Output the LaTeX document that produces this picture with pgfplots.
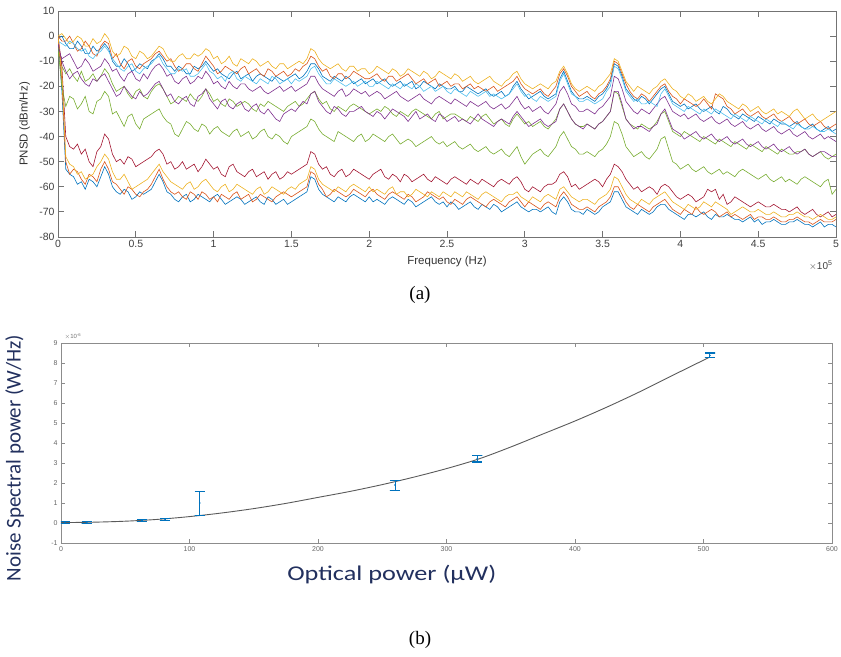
\documentclass[border=0pt]{standalone}
\usepackage{fontspec}
\setmainfont{Liberation Sans}
\newfontfamily\timesf{Liberation Serif}
\newfontfamily\calib{Carlito}
\usepackage{pgfplots}
\usepackage{pgfplotstable}
\pgfplotsset{compat=1.18}

\definecolor{mblue}{HTML}{0072BD}
\definecolor{morange}{HTML}{D95319}
\definecolor{myellow}{HTML}{EDB120}
\definecolor{mpurple}{HTML}{7E2F8E}
\definecolor{mgreen}{HTML}{77AC30}
\definecolor{mcyan}{HTML}{4DBEEE}
\definecolor{mred}{HTML}{A2142F}
\definecolor{eblue}{HTML}{0072BD}
\definecolor{fitgray}{HTML}{5A5A5A}
\definecolor{navy}{HTML}{22305E}

% PSD curves, frequency in units of 1e5 Hz
\pgfplotstableread{
x Y1 O1 B1 C1 P1 P2 G1 G2 R Y2 O2 B2
0.000 0 0 -1 -2 -5 -3 -3 -5 0 0 0 0
0.025 1 -2 0 -3 -9 -10 -12 -20 -12 -15 -18 -22
0.050 -1 -2 -3 -4 -8 -14 -15 -28 -40 -48 -50 -53
0.075 -3 0 -5 -2 -7 -17 -13 -24 -44 -51 -55 -55
0.100 -2 -3 -5 -3 -10 -15 -16 -25 -45 -52 -53 -56
0.125 0 -6 -2 -5 -13 -14 -18 -29 -43 -55 -54 -59
0.150 -1 -5 -4 -6 -12 -17 -14 -27 -47 -54 -57 -58
0.175 -4 -2 -7 -5 -9 -19 -18 -24 -45 -57 -59 -61
0.200 -4 -4 -7 -8 -11 -20 -17 -30 -50 -56 -55 -57
0.225 -1 -7 -4 -9 -14 -17 -15 -31 -52 -55 -56 -58
0.250 -3 -8 -6 -7 -13 -18 -18 -26 -46 -52 -58 -60
0.275 -2 -4 -5 -6 -12 -16 -16 -25 -44 -50 -53 -56
0.300 1 -2 -3 -4 -9 -15 -13 -22 -39 -47 -50 -52
0.325 -1 -3 -5 -6 -11 -18 -15 -24 -41 -49 -53 -55
0.350 -6 -9 -10 -9 -14 -21 -19 -31 -47 -54 -58 -60
0.375 -8 -7 -12 -11 -13 -24 -22 -30 -50 -57 -59 -62
0.400 -7 -11 -12 -13 -16 -23 -21 -33 -49 -57 -61 -63
0.425 -4 -13 -9 -14 -18 -20 -20 -36 -51 -55 -63 -61
0.450 -5 -10 -11 -12 -15 -22 -23 -32 -48 -58 -60 -62
0.475 -8 -9 -14 -11 -14 -24 -25 -31 -49 -61 -61 -65
0.500 -9 -12 -13 -14 -17 -25 -22 -35 -52 -60 -63 -64
0.525 -6 -13 -11 -15 -18 -22 -21 -37 -51 -59 -64 -62
0.550 -7 -11 -12 -13 -15 -24 -24 -33 -50 -58 -62 -63
0.575 -9 -10 -13 -12 -17 -23 -25 -32 -49 -57 -61 -62
0.600 -8 -9 -10 -11 -14 -21 -22 -31 -48 -55 -59 -61
0.625 -6 -7 -9 -9 -12 -19 -20 -30 -46 -53 -56 -58
0.650 -4 -6 -7 -8 -11 -18 -19 -29 -45 -51 -53 -55
0.675 -5 -8 -9 -11 -13 -21 -21 -32 -47 -54 -57 -58
0.700 -8 -10 -12 -13 -16 -24 -24 -34 -51 -56 -60 -62
0.725 -10 -9 -12 -15 -15 -23 -27 -35 -50 -58 -62 -63
0.750 -10 -12 -14 -15 -18 -26 -26 -39 -53 -59 -63 -65
0.775 -8 -14 -12 -13 -19 -27 -24 -40 -52 -60 -62 -66
0.800 -7 -13 -13 -14 -17 -25 -25 -37 -50 -61 -64 -64
0.825 -9 -11 -15 -13 -16 -24 -26 -34 -53 -59 -65 -63
0.850 -9 -11 -15 -16 -19 -27 -23 -35 -52 -58 -62 -66
0.875 -7 -13 -12 -16 -18 -28 -25 -37 -51 -61 -63 -65
0.900 -8 -14 -13 -15 -16 -24 -26 -38 -54 -60 -65 -63
0.925 -7 -11 -12 -13 -17 -23 -24 -35 -52 -58 -62 -64
0.950 -5 -8 -10 -11 -14 -21 -21 -36 -49 -57 -63 -65
0.975 -6 -10 -12 -14 -16 -25 -23 -39 -51 -59 -65 -66
1.000 -9 -12 -14 -15 -19 -27 -26 -37 -53 -61 -64 -64
1.025 -8 -15 -13 -17 -18 -29 -25 -36 -52 -62 -66 -63
1.050 -11 -14 -15 -16 -20 -26 -27 -38 -55 -60 -63 -65
1.075 -10 -12 -16 -18 -21 -25 -28 -39 -56 -59 -64 -67
1.100 -8 -13 -17 -15 -18 -28 -25 -40 -52 -62 -65 -66
1.125 -11 -14 -15 -14 -20 -29 -26 -38 -51 -61 -63 -65
1.150 -12 -15 -14 -17 -21 -27 -28 -37 -54 -59 -62 -64
1.175 -9 -13 -17 -18 -19 -26 -27 -40 -55 -60 -65 -65
1.200 -10 -12 -16 -16 -19 -29 -26 -39 -56 -61 -64 -67
1.225 -11 -15 -15 -17 -21 -30 -27 -38 -54 -62 -63 -66
1.250 -9 -14 -18 -18 -22 -28 -29 -41 -53 -63 -66 -65
1.275 -10 -13 -16 -19 -21 -27 -30 -40 -56 -61 -65 -64
1.300 -12 -15 -15 -17 -20 -30 -27 -38 -55 -60 -63 -66
1.325 -11 -16 -16 -18 -22 -31 -28 -37 -54 -63 -64 -67
1.350 -10 -13 -17 -19 -23 -29 -26 -40 -57 -62 -65 -64
1.375 -12 -14 -18 -16 -22 -31 -27 -41 -55 -60 -66 -65
1.400 -13 -16 -16 -17 -21 -33 -28 -39 -54 -61 -64 -67
1.425 -11 -15 -17 -19 -20 -34 -29 -40 -57 -62 -63 -66
1.450 -11 -14 -18 -18 -22 -31 -30 -42 -56 -63 -62 -65
1.475 -13 -16 -17 -17 -21 -30 -28 -43 -54 -61 -63 -67
1.500 -12 -15 -16 -19 -20 -29 -27 -40 -55 -60 -64 -66
1.525 -11 -13 -15 -17 -22 -30 -26 -39 -54 -61 -63 -65
1.550 -10 -14 -17 -18 -21 -28 -28 -38 -53 -59 -62 -64
1.575 -11 -12 -16 -17 -20 -26 -27 -37 -52 -58 -61 -63
1.600 -9 -11 -14 -16 -19 -27 -25 -36 -51 -57 -60 -62
1.625 -5 -8 -11 -13 -16 -23 -23 -33 -46 -52 -54 -56
1.650 -6 -9 -11 -12 -16 -22 -22 -34 -47 -53 -55 -57
1.675 -9 -12 -13 -15 -19 -26 -25 -37 -51 -57 -59 -61
1.700 -11 -14 -16 -17 -21 -28 -27 -39 -53 -59 -61 -63
1.725 -12 -13 -17 -19 -22 -30 -26 -40 -52 -60 -64 -64
1.750 -13 -16 -18 -19 -23 -31 -29 -41 -55 -61 -63 -65
1.775 -12 -17 -16 -17 -24 -28 -30 -42 -56 -62 -61 -66
1.800 -11 -15 -17 -18 -22 -29 -28 -38 -54 -60 -62 -64
1.825 -13 -15 -18 -19 -21 -31 -29 -39 -53 -61 -63 -65
1.850 -14 -17 -16 -20 -24 -32 -30 -40 -56 -62 -64 -66
1.875 -12 -16 -17 -19 -23 -30 -28 -41 -55 -60 -63 -64
1.900 -12 -14 -19 -18 -21 -30 -27 -42 -53 -59 -61 -63
1.925 -14 -15 -18 -20 -22 -29 -28 -40 -54 -60 -62 -64
1.950 -13 -16 -17 -19 -23 -28 -29 -39 -55 -61 -63 -65
1.975 -13 -17 -19 -18 -22 -30 -30 -42 -56 -62 -64 -66
2.000 -15 -17 -18 -20 -24 -31 -31 -41 -57 -60 -62 -64
2.025 -14 -16 -17 -20 -23 -32 -30 -39 -55 -62 -61 -66
2.050 -12 -15 -19 -18 -22 -30 -29 -40 -54 -61 -63 -65
2.075 -13 -17 -18 -19 -23 -31 -30 -41 -53 -62 -64 -66
2.100 -14 -18 -17 -20 -25 -33 -28 -42 -56 -63 -65 -67
2.125 -15 -16 -19 -21 -24 -31 -29 -40 -57 -61 -63 -65
2.150 -13 -16 -20 -19 -23 -29 -31 -39 -55 -60 -62 -64
2.175 -14 -18 -19 -20 -22 -30 -32 -41 -56 -63 -63 -65
2.200 -16 -17 -18 -21 -24 -31 -30 -43 -58 -62 -64 -66
2.225 -15 -16 -20 -19 -25 -32 -31 -42 -55 -62 -65 -67
2.250 -13 -15 -19 -20 -26 -34 -32 -41 -56 -64 -63 -65
2.275 -14 -17 -18 -21 -25 -32 -30 -42 -58 -63 -64 -66
2.300 -15 -19 -21 -19 -24 -30 -29 -44 -57 -61 -66 -68
2.325 -16 -18 -20 -20 -23 -33 -30 -43 -56 -62 -65 -67
2.350 -14 -17 -18 -22 -25 -32 -31 -42 -55 -63 -64 -66
2.375 -15 -19 -19 -21 -26 -31 -32 -41 -57 -64 -62 -65
2.400 -17 -18 -20 -20 -27 -33 -33 -40 -58 -62 -63 -64
2.425 -16 -17 -21 -22 -25 -34 -31 -42 -56 -63 -64 -66
2.450 -14 -20 -19 -21 -24 -31 -30 -43 -57 -64 -65 -67
2.475 -15 -19 -20 -20 -25 -32 -33 -42 -58 -62 -64 -66
2.500 -16 -18 -21 -22 -26 -34 -32 -44 -59 -63 -66 -68
2.525 -17 -20 -21 -23 -27 -33 -31 -43 -57 -64 -67 -66
2.550 -15 -19 -20 -21 -25 -32 -31 -42 -56 -62 -65 -67
2.575 -16 -19 -22 -22 -26 -34 -32 -44 -57 -63 -66 -69
2.600 -18 -21 -22 -23 -27 -33 -33 -45 -58 -64 -67 -68
2.625 -17 -20 -20 -24 -28 -34 -34 -44 -59 -62 -65 -67
2.650 -16 -19 -21 -22 -26 -35 -32 -43 -57 -63 -64 -66
2.675 -18 -21 -22 -23 -27 -33 -33 -45 -58 -64 -65 -68
2.700 -19 -20 -23 -24 -28 -31 -34 -46 -59 -65 -66 -69
2.725 -18 -21 -22 -23 -27 -33 -32 -45 -57 -63 -67 -67
2.750 -17 -22 -21 -22 -26 -34 -31 -44 -58 -62 -68 -68
2.775 -16 -21 -23 -24 -28 -35 -33 -46 -59 -63 -66 -69
2.800 -18 -20 -24 -23 -29 -36 -35 -47 -60 -64 -65 -67
2.825 -19 -22 -23 -24 -28 -34 -34 -46 -58 -65 -66 -68
2.850 -20 -21 -22 -25 -27 -33 -33 -45 -57 -66 -67 -70
2.875 -18 -20 -24 -24 -29 -34 -35 -47 -58 -64 -68 -69
2.900 -17 -19 -23 -23 -28 -35 -36 -48 -59 -63 -66 -68
2.925 -15 -18 -20 -21 -26 -32 -33 -46 -57 -63 -65 -67
2.950 -14 -16 -18 -19 -24 -30 -31 -44 -56 -62 -64 -66
2.975 -17 -19 -21 -22 -27 -32 -33 -48 -58 -64 -66 -68
3.000 -19 -21 -23 -24 -29 -34 -35 -51 -61 -65 -68 -69
3.025 -20 -22 -25 -23 -28 -36 -34 -49 -62 -66 -66 -70
3.050 -21 -23 -24 -25 -30 -35 -36 -47 -60 -64 -67 -69
3.075 -20 -22 -23 -26 -29 -34 -35 -46 -61 -65 -68 -69
3.100 -19 -21 -22 -24 -28 -33 -34 -45 -62 -66 -69 -70
3.125 -20 -23 -24 -25 -30 -35 -36 -47 -60 -64 -67 -69
3.150 -21 -24 -25 -26 -31 -36 -37 -48 -59 -63 -66 -68
3.175 -19 -22 -24 -25 -29 -35 -35 -46 -59 -64 -67 -70
3.200 -18 -20 -23 -24 -27 -34 -33 -44 -58 -65 -68 -71
3.225 -14 -15 -17 -18 -22 -29 -29 -40 -55 -61 -64 -66
3.250 -12 -13 -14 -15 -20 -27 -27 -38 -54 -60 -62 -64
3.275 -15 -16 -18 -19 -23 -30 -30 -41 -56 -62 -64 -66
3.300 -19 -20 -22 -23 -27 -33 -33 -44 -60 -64 -67 -69
3.325 -21 -22 -24 -24 -28 -35 -35 -45 -59 -65 -68 -70
3.350 -22 -24 -25 -26 -30 -36 -36 -47 -61 -66 -69 -70
3.375 -21 -23 -25 -26 -30 -37 -36 -47 -60 -65 -69 -71
3.400 -20 -22 -24 -25 -29 -35 -35 -46 -59 -65 -68 -69
3.425 -21 -24 -25 -26 -30 -36 -36 -47 -58 -66 -69 -70
3.450 -22 -25 -26 -27 -31 -37 -37 -48 -57 -67 -70 -71
3.475 -20 -23 -24 -26 -29 -35 -35 -46 -58 -65 -68 -70
3.500 -19 -22 -23 -25 -28 -34 -34 -45 -60 -64 -67 -68
3.525 -17 -20 -21 -22 -26 -32 -32 -43 -57 -63 -66 -67
3.550 -15 -17 -18 -20 -24 -30 -30 -40 -55 -61 -64 -66
3.575 -9 -10 -11 -12 -16 -22 -22 -34 -51 -56 -60 -62
3.600 -10 -11 -12 -13 -17 -22 -23 -35 -52 -57 -60 -62
3.625 -14 -15 -16 -17 -21 -27 -28 -39 -54 -60 -63 -65
3.650 -18 -19 -21 -22 -26 -33 -33 -44 -57 -63 -66 -68
3.675 -20 -22 -23 -24 -28 -35 -35 -46 -59 -65 -68 -69
3.700 -22 -24 -25 -26 -30 -37 -36 -48 -61 -66 -69 -70
3.725 -20 -25 -26 -25 -31 -36 -37 -47 -60 -67 -67 -71
3.750 -21 -23 -24 -27 -29 -36 -35 -46 -62 -65 -68 -69
3.775 -22 -24 -25 -27 -30 -37 -36 -48 -61 -66 -69 -70
3.800 -23 -26 -27 -26 -31 -38 -37 -49 -60 -67 -70 -71
3.825 -21 -24 -25 -27 -29 -36 -36 -47 -61 -65 -68 -70
3.850 -20 -22 -23 -28 -27 -35 -34 -45 -63 -64 -67 -68
3.875 -18 -20 -21 -23 -25 -31 -31 -41 -60 -63 -66 -67
3.900 -17 -19 -20 -21 -24 -29 -30 -40 -59 -62 -65 -67
3.925 -19 -22 -23 -24 -27 -33 -34 -45 -60 -64 -67 -69
3.950 -21 -24 -26 -27 -30 -37 -38 -50 -62 -66 -69 -70
3.975 -22 -25 -27 -28 -31 -38 -39 -51 -64 -67 -70 -71
4.000 -24 -27 -28 -29 -32 -39 -40 -53 -65 -68 -71 -72
4.025 -25 -25 -27 -30 -31 -41 -38 -52 -64 -69 -69 -73
4.050 -23 -26 -29 -28 -33 -40 -39 -51 -63 -67 -70 -71
4.075 -24 -27 -28 -29 -32 -39 -40 -53 -64 -68 -71 -71
4.100 -26 -28 -27 -30 -31 -38 -41 -54 -66 -69 -68 -72
4.125 -25 -27 -29 -31 -33 -40 -42 -53 -65 -68 -70 -71
4.150 -24 -25 -30 -29 -34 -41 -40 -52 -64 -66 -71 -70
4.175 -26 -27 -29 -30 -33 -40 -41 -54 -61 -67 -70 -72
4.200 -27 -29 -28 -31 -32 -39 -42 -55 -62 -68 -69 -73
4.225 -25 -23 -30 -29 -34 -41 -43 -54 -61 -66 -70 -71
4.250 -23 -24 -31 -30 -35 -42 -41 -53 -65 -67 -72 -72
4.275 -24 -25 -28 -31 -34 -41 -42 -55 -63 -68 -71 -72
4.300 -26 -28 -29 -32 -33 -40 -43 -54 -67 -69 -70 -71
4.325 -27 -29 -31 -33 -35 -42 -44 -55 -66 -71 -72 -72
4.350 -28 -31 -32 -31 -36 -43 -42 -56 -64 -70 -71 -73
4.375 -29 -30 -33 -32 -35 -42 -43 -54 -65 -69 -72 -73
4.400 -27 -29 -31 -33 -34 -41 -44 -53 -66 -68 -73 -74
4.425 -28 -31 -32 -34 -36 -43 -45 -54 -67 -69 -72 -73
4.450 -30 -32 -33 -32 -37 -44 -43 -55 -68 -70 -71 -72
4.475 -29 -31 -34 -33 -36 -43 -44 -56 -67 -70 -73 -74
4.500 -28 -30 -32 -34 -35 -42 -45 -57 -66 -69 -72 -73
4.525 -30 -32 -33 -35 -37 -44 -46 -56 -67 -70 -72 -75
4.550 -31 -33 -34 -33 -38 -45 -44 -55 -68 -71 -73 -74
4.575 -30 -32 -35 -34 -37 -44 -45 -57 -68 -71 -73 -74
4.600 -29 -31 -33 -35 -36 -43 -46 -58 -67 -70 -72 -73
4.625 -31 -33 -34 -36 -38 -45 -47 -57 -68 -71 -73 -74
4.650 -30 -34 -35 -34 -39 -46 -45 -56 -69 -72 -74 -75
4.675 -31 -33 -35 -35 -38 -45 -46 -58 -69 -72 -74 -75
4.700 -32 -32 -36 -36 -37 -44 -47 -57 -70 -71 -73 -74
4.725 -30 -34 -35 -37 -39 -46 -47 -58 -69 -71 -73 -74
4.750 -29 -35 -34 -35 -40 -47 -46 -59 -68 -70 -72 -73
4.775 -31 -34 -36 -36 -39 -46 -46 -57 -70 -71 -73 -74
4.800 -33 -33 -37 -37 -38 -45 -45 -56 -71 -72 -74 -75
4.825 -32 -35 -36 -37 -40 -47 -47 -57 -70 -72 -74 -75
4.850 -31 -36 -35 -36 -41 -48 -48 -58 -69 -73 -75 -76
4.875 -33 -35 -37 -37 -40 -47 -47 -59 -71 -72 -74 -75
4.900 -34 -34 -38 -38 -39 -46 -46 -60 -72 -71 -73 -74
4.925 -33 -36 -37 -38 -41 -46 -48 -58 -71 -72 -74 -76
4.950 -32 -37 -36 -37 -40 -47 -49 -57 -70 -73 -74 -75
4.975 -31 -36 -38 -38 -41 -48 -48 -63 -72 -73 -74 -75
5.000 -30 -35 -37 -39 -42 -48 -47 -61 -71 -72 -73 -76
}\psd

% measured noise spectral power (1e-6 W/Hz), centre values
\pgfplotstableread{
x y
3 0.02
20 0.02
63 0.12
81 0.18
108 1.00
260 1.90
324 3.22
505 8.38
}\npts

% fitted curve
\pgfplotstableread{
x y
0 0.02
25 0.04
50 0.09
75 0.18
100 0.32
125 0.50
150 0.72
175 0.98
200 1.28
225 1.58
250 1.92
275 2.30
300 2.72
325 3.20
350 3.80
375 4.45
400 5.10
425 5.80
450 6.55
475 7.35
505 8.30
}\nfit

\begin{document}
\begin{tikzpicture}
\path[use as bounding box] (0,0) rectangle (841bp,657bp);

% (a) PSD
\begin{axis}[
  at={(58bp,420bp)}, anchor=south west,
  scale only axis, width=778bp, height=226bp,
  clip mode=individual,
  xmin=0, xmax=5, ymin=-80, ymax=10,
  xtick={0,0.5,1,1.5,2,2.5,3,3.5,4,4.5,5},
  ytick={-80,-70,-60,-50,-40,-30,-20,-10,0,10},
  /pgf/number format/assume math mode=true,
  tick label style={font=\fontsize{10.5bp}{12bp}\selectfont, text=black!75},
  axis line style={black!55, line width=0.8bp},
  tick style={black!55, line width=0.8bp},
  major tick length=6bp,
  xlabel={Frequency (Hz)}, ylabel={PNSD (dBm/Hz)},
  label style={font=\fontsize{11.5bp}{13bp}\selectfont, text=black!80},
  xlabel style={at={(axis description cs:0.5,-0.11)}, anchor=center},
  ylabel style={at={(axis description cs:-0.043,0.5)}, anchor=center},
  every axis plot/.append style={line width=0.6bp},
]
\addplot[mblue] table[x=x, y=B1]{\psd};
\addplot[morange] table[x=x, y=O1]{\psd};
\addplot[myellow] table[x=x, y=Y1]{\psd};
\addplot[mpurple] table[x=x, y=P1]{\psd};
\addplot[mgreen] table[x=x, y=G1]{\psd};
\addplot[mcyan] table[x=x, y=C1]{\psd};
\addplot[mred] table[x=x, y=R]{\psd};
\addplot[mblue] table[x=x, y=B2]{\psd};
\addplot[morange] table[x=x, y=O2]{\psd};
\addplot[myellow] table[x=x, y=Y2]{\psd};
\addplot[mpurple] table[x=x, y=P2]{\psd};
\addplot[mgreen] table[x=x, y=G2]{\psd};
\node[anchor=east, font=\fontsize{10bp}{12bp}\selectfont, text=black!75]
  at (axis description cs:1,-0.125) {$\times$10\textsuperscript{5}};
\end{axis}

\node[font=\timesf\fontsize{19bp}{22bp}\selectfont] at (420bp,362bp) {(a)};

% (b) noise spectral power
\begin{axis}[
  at={(61bp,114bp)}, anchor=south west,
  scale only axis, width=771bp, height=200bp,
  clip mode=individual,
  xmin=0, xmax=600, ymin=-1, ymax=9,
  xtick={0,100,200,300,400,500,600},
  ytick={-1,0,1,2,3,4,5,6,7,8,9},
  /pgf/number format/assume math mode=true,
  tick label style={font=\fontsize{7bp}{8bp}\selectfont, text=black!60},
  axis line style={black!45, line width=0.9bp},
  tick style={black!45, line width=0.7bp},
  major tick length=4bp,
  xlabel={Optical power (µW)}, ylabel={Noise Spectral power (W/Hz)},
  label style={font=\calib\fontsize{21bp}{24bp}\selectfont, text=navy},
  xlabel style={at={(axis description cs:0.429,-0.16)}, anchor=center, xscale=1.25},
  ylabel style={at={(axis description cs:-0.06,0.425)}, anchor=center},
  ebar/.style={draw=eblue, line width=1.1bp, mark=none},
]
\addplot[fitgray, line width=0.9bp, smooth] table[x=x, y=y]{\nfit};
% error bars: top cap, bar, bottom cap drawn as one path per measurement
\addplot[ebar] coordinates {(-1,0.07) (7,0.07) (3,0.07) (3,-0.03) (-1,-0.03) (7,-0.03)};
\addplot[ebar] coordinates {(16,0.06) (24,0.06) (20,0.06) (20,-0.02) (16,-0.02) (24,-0.02)};
\addplot[ebar] coordinates {(59,0.16) (67,0.16) (63,0.16) (63,0.08) (59,0.08) (67,0.08)};
\addplot[ebar] coordinates {(77,0.23) (85,0.23) (81,0.23) (81,0.13) (77,0.13) (85,0.13)};
\addplot[ebar] coordinates {(104,1.58) (112,1.58) (108,1.58) (108,0.38) (104,0.38) (112,0.38)};
\addplot[ebar] coordinates {(256,2.14) (264,2.14) (260,2.14) (260,1.64) (256,1.64) (264,1.64)};
\addplot[ebar] coordinates {(320,3.39) (328,3.39) (324,3.39) (324,3.05) (320,3.05) (328,3.05)};
\addplot[ebar] coordinates {(501,8.50) (509,8.50) (505,8.50) (505,8.27) (501,8.27) (509,8.27)};
\addplot[eblue, only marks, mark=*, mark size=0.6bp] table[x=x, y=y]{\npts};
\node[anchor=south west, font=\fontsize{6bp}{7bp}\selectfont, text=black!55]
  at (axis description cs:0,1) {$\times$10\textsuperscript{-6}};
\end{axis}

\node[font=\timesf\fontsize{19bp}{22bp}\selectfont] at (420bp,17bp) {(b)};
\end{tikzpicture}
\end{document}
